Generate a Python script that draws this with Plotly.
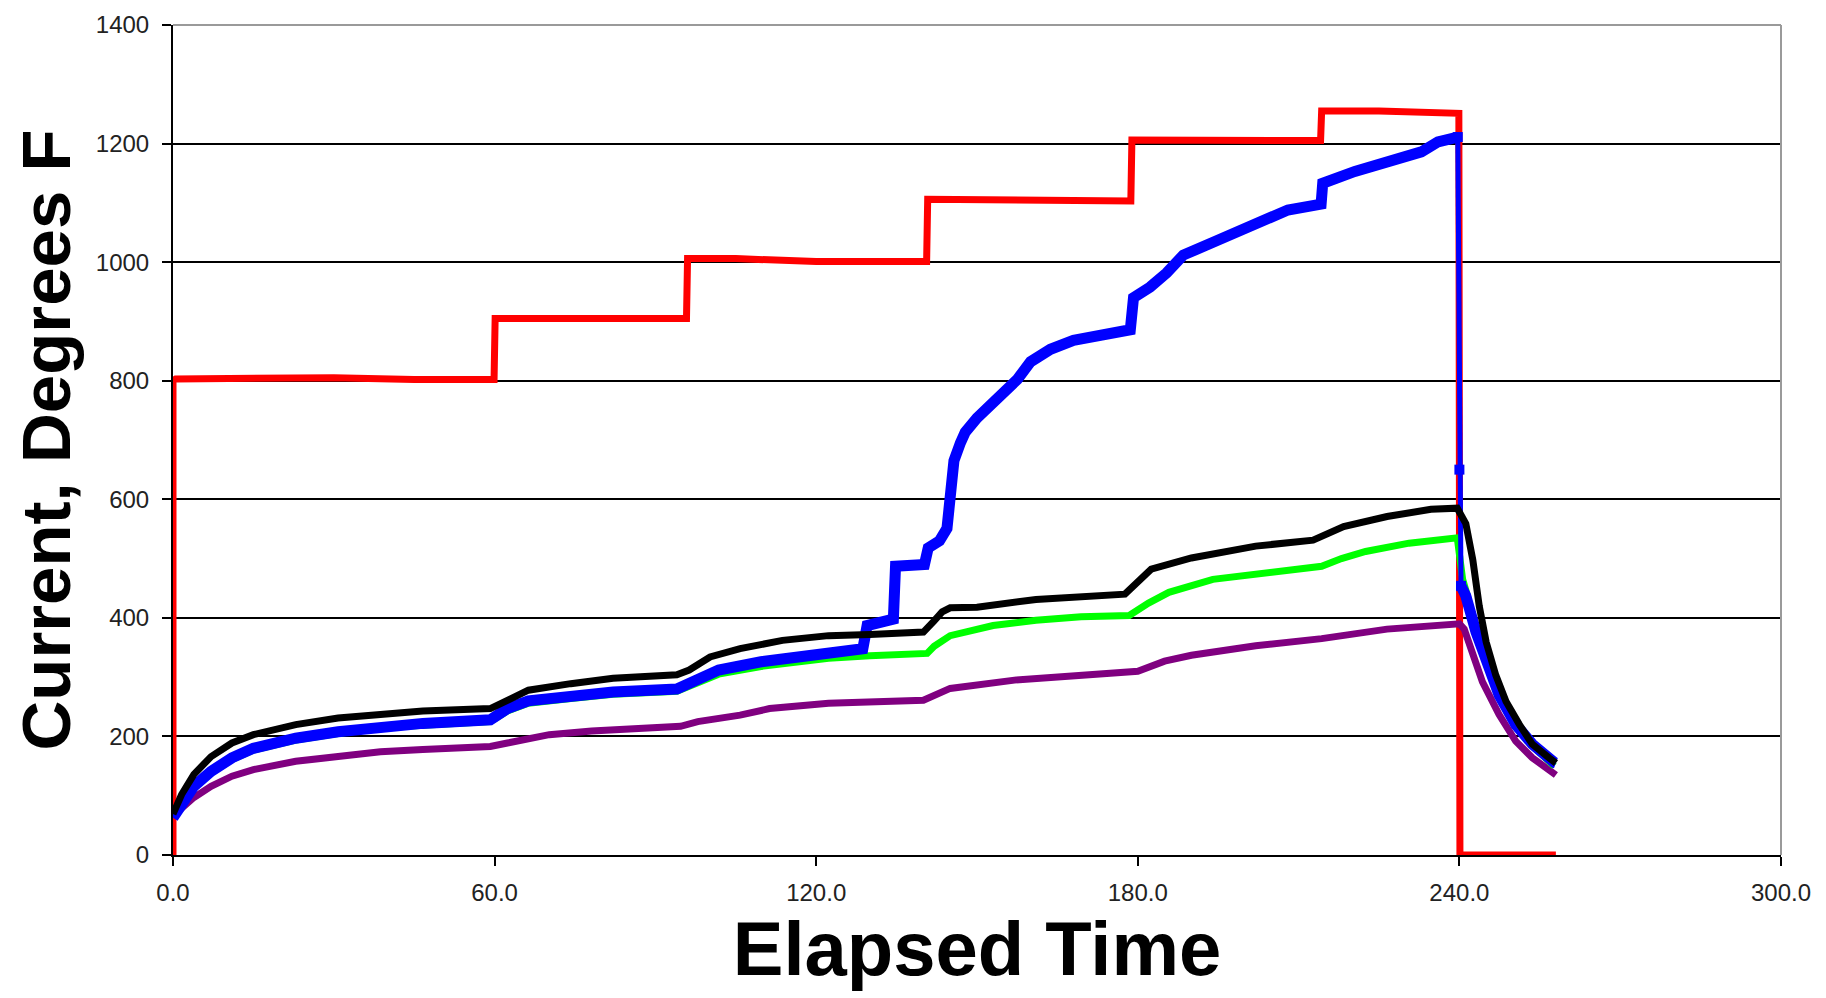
import plotly.graph_objects as go

# ---- data (elapsed time, degrees F) ----
red_t = [0, 0, 0.5, 20, 30, 45, 59.9, 60.1, 75, 95.8, 96.0, 105, 120, 140.6, 140.8, 155, 178.7,
         178.9, 195, 214.1, 214.3, 225, 239.9, 240.0, 240.0, 240.1, 258]
red_v = [0, 800, 803, 803, 805, 802, 802, 905, 905, 905, 1006, 1006, 1001, 1001, 1106, 1104, 1103,
         1206, 1205, 1205, 1255, 1255, 1251, 935, 245, 0, 0]

purple_t = [0, 3.9, 7.1, 11, 15, 22.9, 30.8, 38.7, 46.6, 59.2, 62.4, 70.2, 78.1, 86, 94.7, 97.9,
            105.8, 111.3, 117.6, 122.3, 140, 145, 157, 177.6, 180, 185, 190, 202, 214.3, 226.5,
            238.8, 240, 240.9, 242.5, 244.3, 247.4, 250.5, 253.6, 257.4, 258]
purple_v = [66, 97, 116, 133, 144, 158, 166, 174, 178, 183, 189, 203, 209, 214, 217, 225,
            236, 247, 253, 256, 261, 281, 295, 306, 310, 327, 337, 353, 365, 381,
            390, 390, 381, 337, 292, 237, 192, 164, 137, 135]

green_t = [0, 1.6, 3.9, 7.1, 11, 15, 22.9, 30.8, 38.7, 46.6, 59.2, 62.4, 66.3, 74.2, 82.1, 94,
           97.1, 101.8, 109.7, 117.6, 122.3, 130, 140.7, 142, 145, 153, 161, 169.4, 178.4, 182,
           185.8, 194, 202, 214.3, 218, 222.5, 230.6, 239.6, 240.6, 241.5, 243.1, 245, 247.4,
           250.5, 253.6, 257.7]
green_v = [66, 84, 114, 139, 161, 177, 194, 205, 214, 219, 225, 243, 256, 264, 271, 276,
           287, 305, 318, 328, 332, 336, 340, 352, 370, 387, 396, 402, 404, 425,
           443, 465, 473, 487, 500, 512, 526, 535, 465, 437, 372, 322, 266,
           216, 184, 150]

blue_t = [0, 1.6, 3.9, 7.1, 11, 15, 22.9, 30.8, 38.7, 46.6, 59.2, 62.4, 66.3, 74.2, 82.1, 94,
          97.1, 101.8, 109.7, 117.6, 122.3, 128.7, 129.5, 134.4, 134.8, 140.2, 140.9, 143,
          144.4, 145, 145.7, 146.9, 147.8, 150, 151.3, 154.4, 157.5, 160, 163.7, 168, 173,
          178.6, 179.2, 182.3, 185.4, 188.5, 194.7, 200.9, 208, 214.2, 214.5, 220.5, 226.7,
          232.9, 236, 239.7, 240.0, 240.3, 241.2, 243.1, 245, 247.4, 250.5, 253.6, 257.7, 258]
blue_v = [63, 85, 116, 141, 164, 180, 197, 208, 217, 222, 228, 247, 260, 268, 275, 280,
          292, 312, 326, 337, 342, 348, 387, 398, 487, 490, 518, 530,
          551, 605, 665, 695, 713, 737, 749, 772, 802, 832, 853, 868, 877,
          886, 940, 958, 982, 1012, 1036, 1059, 1088, 1098, 1133, 1153, 1169,
          1186, 1203, 1211, 650, 454, 437, 376, 326, 270, 220, 187, 156, 155]

black_t = [0, 1.6, 3.9, 7.1, 11, 15, 22.9, 30.8, 38.7, 46.6, 59.2, 62.4, 66.3, 74.2, 82.1, 94,
           96.3, 100.2, 105.8, 113.7, 122.3, 130, 140, 142, 143.5, 145, 150, 161, 177.6, 182.5,
           190, 202, 212.7, 218.4, 226.5, 234.7, 239.6, 241.2, 242.5, 243.7, 245, 246.8, 248.7,
           251.2, 253.6, 256.7, 258]
black_v = [69, 102, 136, 166, 189, 203, 220, 231, 237, 243, 247, 261, 278, 289, 298, 304,
           312, 334, 348, 362, 370, 372, 376, 395, 410, 417, 418, 431, 440, 482,
           501, 521, 531, 554, 571, 583, 585, 559, 498, 420, 359, 303, 259,
           220, 187, 164, 155]

x_ticks = [0, 60, 120, 180, 240, 300]
y_ticks = [0, 200, 400, 600, 800, 1000, 1200, 1400]

# ---- figure ----
fig = go.Figure()

fig.add_trace(go.Scatter(x=red_t, y=red_v, mode="lines",
                         line=dict(color="#ff0000", width=7), name="Current"))
fig.add_trace(go.Scatter(x=purple_t, y=purple_v, mode="lines",
                         line=dict(color="#800080", width=7), name="TC 4"))
fig.add_trace(go.Scatter(x=green_t, y=green_v, mode="lines",
                         line=dict(color="#00ff00", width=7), name="TC 3"))

# blue: thick while heating/cooling, thin connector on the drop at 240
i_drop = blue_t.index(239.7)
i_end_drop = blue_t.index(240.3)
blue_x_main = blue_t[:i_drop + 1] + [None] + blue_t[i_end_drop:]
blue_y_main = blue_v[:i_drop + 1] + [None] + blue_v[i_end_drop:]
fig.add_trace(go.Scatter(x=blue_t[i_drop:i_end_drop + 1], y=blue_v[i_drop:i_end_drop + 1],
                         mode="lines+markers",
                         line=dict(color="#0000ff", width=5),
                         marker=dict(symbol="square", size=10, color="#0000ff"),
                         showlegend=False))
fig.add_trace(go.Scatter(x=blue_x_main, y=blue_y_main, mode="lines", connectgaps=False,
                         line=dict(color="#0000ff", width=11), name="TC 2"))
fig.add_trace(go.Scatter(x=black_t, y=black_v, mode="lines",
                         line=dict(color="#000000", width=7), name="TC 1"))

tick_font = dict(family="Liberation Sans, Arial, sans-serif", size=24, color="#222222")
xtitle_font = dict(family="Liberation Sans, Arial, sans-serif", size=76, color="#000000",
                   weight="bold")
ytitle_font = dict(family="Liberation Sans, Arial, sans-serif", size=69, color="#000000",
                   weight="bold")

fig.update_layout(
    width=1826, height=998,
    margin=dict(l=165, r=53, t=17, b=151),
    paper_bgcolor="white", plot_bgcolor="white",
    showlegend=False,
    xaxis=dict(
        range=[0, 300], tickvals=x_ticks, tickformat=".1f",
        automargin=False,
        showgrid=False, zeroline=False,
        showline=True, linecolor="#000000", linewidth=2,
        ticks="outside", ticklen=9, tickwidth=2, tickcolor="#000000",
        tickfont=tick_font, ticklabelstandoff=6, ticklabeloverflow="allow",
        title=dict(text="Elapsed Time", font=xtitle_font, standoff=17),
    ),
    yaxis=dict(
        range=[0, 1400], tickvals=y_ticks,
        automargin=False,
        showgrid=True, gridcolor="#000000", gridwidth=1.5,
        zeroline=False,
        showline=True, linecolor="#000000", linewidth=2,
        ticks="outside", ticklen=9, tickwidth=2, tickcolor="#000000",
        tickfont=tick_font, ticklabelstandoff=8, ticklabeloverflow="allow",
        title=dict(text="Current, Degrees F", font=ytitle_font, standoff=14),
    ),
)

# gray frame on top and right of plot area
fig.add_shape(type="line", xref="paper", yref="paper", x0=0, x1=1, y0=1, y1=1,
              line=dict(color="#9a9a9a", width=2), layer="above")
fig.add_shape(type="line", xref="paper", yref="paper", x0=1, x1=1, y0=0, y1=1,
              line=dict(color="#9a9a9a", width=2), layer="above")

fig.write_html("out.html")
